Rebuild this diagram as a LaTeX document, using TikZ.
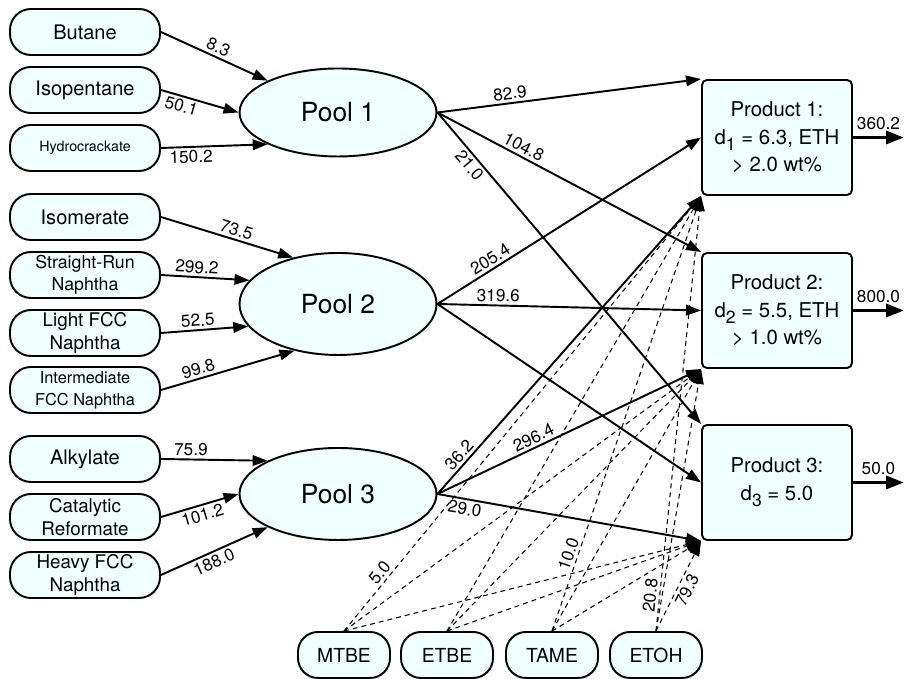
\documentclass[tikz,border=0pt]{standalone}
\usepackage{fontspec}
\setmainfont{TeX Gyre Heros}
\usetikzlibrary{arrows.meta,shapes.geometric}

\definecolor{boxfill}{RGB}{240,255,255}
\newcommand\lsub[1]{\raisebox{-0.6ex}{\fontsize{10}{10}\selectfont #1}}

\tikzset{
  feed/.style={draw, line width=1.1pt, fill=boxfill, rounded corners=0.42cm,
    minimum width=3cm, minimum height=0.92cm, align=center, inner sep=1pt,
    font=\fontsize{11.4}{12.5}\selectfont},
  pool/.style={draw, ellipse, line width=1.1pt, fill=boxfill,
    minimum width=3.94cm, minimum height=1.8cm, font=\fontsize{15}{18}\selectfont},
  product/.style={draw, line width=1.1pt, fill=boxfill, rounded corners=0.1cm,
    minimum width=3cm, minimum height=2.3cm, align=center,
    font=\fontsize{11.6}{15.5}\selectfont},
  additive/.style={draw, line width=1.1pt, fill=boxfill, rounded corners=0.4cm,
    minimum width=1.84cm, minimum height=0.92cm, font=\fontsize{11}{13}\selectfont},
  flow/.style={line width=1.1pt, -{Triangle[length=0.3cm,width=0.21cm]}},
  blend/.style={line width=0.6pt, dash pattern=on 2.8pt off 2.3pt,
    -{Triangle[length=0.3cm,width=0.21cm]}},
  outflow/.style={line width=2pt, -{Triangle[length=0.36cm,width=0.26cm]}},
  lbl/.style={font=\fontsize{9.8}{11}\selectfont, inner sep=1.5pt, sloped},
}

\begin{document}
\begin{tikzpicture}
  \useasboundingbox (0, 0) rectangle (18.12, 13.58);

  % feeds
  \node[feed] (butane) at (1.7, 12.94) {Butane};
  \node[feed] (isopentane) at (1.7, 11.78) {Isopentane};
  \node[feed, font=\fontsize{8.1}{9}\selectfont] (hydro) at (1.7, 10.62) {Hydrocrackate};
  \node[feed] (isomerate) at (1.7, 9.24) {Isomerate};
  \node[feed, font=\fontsize{10.1}{12.4}\selectfont] (straight) at (1.7, 8.08) {Straight-Run\\Naphtha};
  \node[feed, font=\fontsize{10.7}{13}\selectfont] (lightfcc) at (1.7, 6.92) {Light FCC\\Naphtha};
  \node[feed, font=\fontsize{9.3}{12.4}\selectfont] (interm) at (1.7, 5.78) {Intermediate\\FCC Naphtha};
  \node[feed] (alkylate) at (1.7, 4.40) {Alkylate};
  \node[feed, font=\fontsize{10.7}{13}\selectfont] (reformate) at (1.7, 3.24) {Catalytic\\Reformate};
  \node[feed, font=\fontsize{10.7}{13}\selectfont] (heavyfcc) at (1.7, 2.08) {Heavy FCC\\Naphtha};

  % pools
  \node[pool, minimum height=1.76cm] (pool1) at (6.76, 11.33) {Pool 1};
  \node[pool, minimum height=2.04cm] (pool2) at (6.76, 7.50) {Pool 2};
  \node[pool, minimum height=1.84cm] (pool3) at (6.76, 3.70) {Pool 3};

  % products
  \node[product] (p1) at (15.54, 10.83) {Product 1:\\d\lsub{1} = 6.3, ETH\\> 2.0 wt\%};
  \node[product] (p2) at (15.54, 7.37) {Product 2:\\d\lsub{2} = 5.5, ETH\\> 1.0 wt\%};
  \node[product] (p3) at (15.54, 3.93) {Product 3:\\d\lsub{3} = 5.0};

  % additives
  \node[additive] (mtbe) at (6.88, 0.48) {MTBE};
  \node[additive] (etbe) at (8.94, 0.48) {ETBE};
  \node[additive] (tame) at (11.04, 0.48) {TAME};
  \node[additive] (etoh) at (13.12, 0.48) {ETOH};

  \coordinate (out1) at (18.08, 10.83);
  \coordinate (out2) at (18.08, 7.37);
  \coordinate (out3) at (18.08, 3.93);

  % feeds into pools
  \draw[flow] (butane.east) -- (pool1.north west) node[lbl, pos=0.5, above] {8.3};
  \draw[flow] (isopentane.east) -- (pool1.west) node[lbl, pos=0.3, below] {50.1};
  \draw[flow] (hydro.east) -- (pool1.south west) node[lbl, pos=0.28, below] {150.2};
  \draw[flow] (isomerate.east) -- (pool2.134) node[lbl, pos=0.55, above] {73.5};
  \draw[flow] (straight.east) -- (pool2.165) node[lbl, pos=0.4, above] {299.2};
  \draw[flow] (lightfcc.east) -- (pool2.194) node[lbl, pos=0.43, above] {52.5};
  \draw[flow] (interm.east) -- (pool2.227) node[lbl, pos=0.3, above] {99.8};
  \draw[flow] (alkylate.east) -- (pool3.north west) node[lbl, pos=0.28, above] {75.9};
  \draw[flow] (reformate.east) -- (pool3.west) node[lbl, pos=0.5, below] {101.2};
  \draw[flow] (heavyfcc.east) -- (pool3.south west) node[lbl, pos=0.46, below] {188.0};

  % pools into products
  \draw[flow] (pool1.east) -- (p1.north west) node[lbl, pos=0.28, above] {82.9};
  \draw[flow] (pool1.east) -- (p2.north west) node[lbl, pos=0.31, above] {104.8};
  \draw[flow] (pool1.east) -- (p3.north west) node[lbl, pos=0.15, below] {21.0};
  \draw[flow] (pool2.east) -- (p1.west) node[lbl, pos=0.22, above] {205.4};
  \draw[flow] (pool2.east) -- (p2.west) node[lbl, pos=0.23, above] {319.6};
  \draw[flow] (pool2.east) -- (p3.west);
  \draw[flow] (pool3.east) -- (p1.south west) node[lbl, pos=0.11, above] {36.2};
  \draw[flow] (pool3.east) -- (p2.south west) node[lbl, pos=0.38, above] {296.4};
  \draw[flow] (pool3.east) -- (p3.south west) node[lbl, pos=0.11, below] {29.0};

  % additives into products
  \foreach \a/\p in {mtbe/p2, mtbe/p3, etbe/p1, etbe/p2, etbe/p3, tame/p2, tame/p3, etoh/p2}
    \draw[blend] (\a.north) -- (\p.south west);
  \draw[blend] (mtbe.north) -- (p1.south west) node[lbl, pos=0.12, above] {5.0};
  \draw[blend] (tame.north) -- (p1.south west) node[lbl, pos=0.17, above] {10.0};
  \draw[blend] (etoh.north) -- (p1.south west) node[lbl, pos=0.08, above] {20.8};
  \draw[blend] (etoh.north) -- (p3.south west) node[lbl, pos=0.5, below] {79.3};

  % products out
  \draw[outflow] (p1.east) -- (out1) node[lbl, midway, above=2pt] {360.2};
  \draw[outflow] (p2.east) -- (out2) node[lbl, midway, above=2pt] {800.0};
  \draw[outflow] (p3.east) -- (out3) node[lbl, midway, above=2pt] {50.0};
\end{tikzpicture}
\end{document}
